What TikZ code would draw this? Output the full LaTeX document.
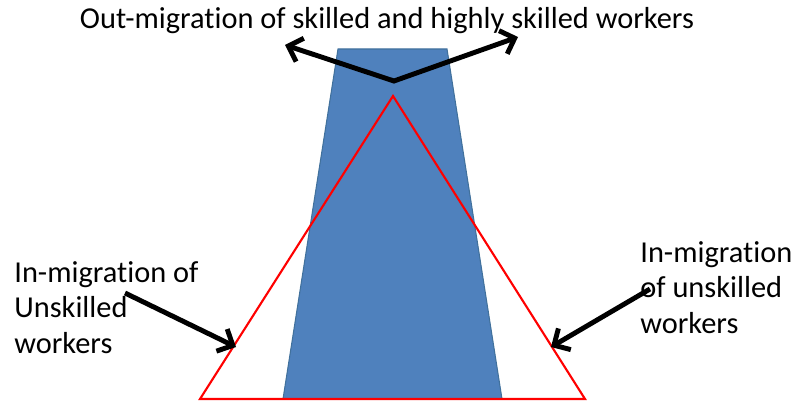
\documentclass[tikz,border=0pt]{standalone}
\usepackage{fontspec}
\setmainfont{Carlito}[Ligatures={NoCommon,NoContextual}]
\usetikzlibrary{arrows.meta}
\definecolor{colBar}{HTML}{4F81BD}
\definecolor{colBarLine}{HTML}{41719C}

\begin{document}
\begin{tikzpicture}[x=0.02cm, y=-0.02cm,
    migr/.style={line width=2.8pt, line join=miter, {Straight Barb[length=7pt, width=14pt]}-{Straight Barb[length=7pt, width=14pt]}},
    inmigr/.style={line width=2.8pt, -{Straight Barb[length=7pt, width=14pt]}},
    lbl/.style={font=\fontsize{17.3}{20.3}\selectfont, inner sep=0pt, align=left}]
\useasboundingbox (0,0) rectangle (791,402);
% blue trapezium and red triangle
\filldraw[fill=colBar, draw=colBarLine, line width=0.6pt] (283,399) -- (338,49) -- (447,49) -- (502,399) -- cycle;
\draw[red, line width=1.2pt] (200,399) -- (393,96) -- (585,399) -- cycle;
% arrow ends
\coordinate (vee) at (394,81);
\coordinate (outL) at (285,45);
\coordinate (outR) at (518,37);
\coordinate (inL) at (236,347);
\coordinate (inR) at (551,347);
% labels
\node[lbl, anchor=base] (outLbl) at (387,29) {Out-migration of skilled and highly skilled workers};
\node[lbl, anchor=north west] (leftLbl) at (14,261) {In-migration of\\Unskilled\\workers};
\node[lbl, anchor=north west] (rightLbl) at (640,241) {In-migration\\of unskilled\\workers};
% arrows
\draw[migr] (outL) -- (vee) -- (outR);
\draw[inmigr] (125,293) coordinate (fromL) -- (inL);
\draw[inmigr] (650,289) coordinate (fromR) -- (inR);
\end{tikzpicture}
\end{document}
